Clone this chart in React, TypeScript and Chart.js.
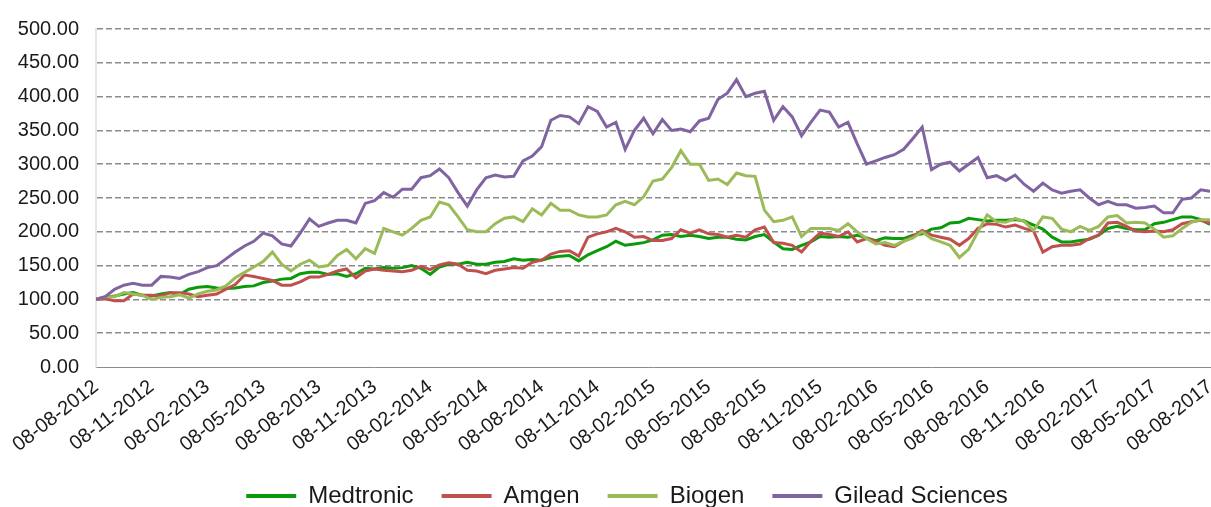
import React, { useEffect, useRef } from "react";
import { Chart, registerables } from "chart.js";

Chart.register(...registerables);

// Tick labels on the x axis (one every 6 data points)
const tickLabels = [
  "08-08-2012", "08-11-2012", "08-02-2013", "08-05-2013", "08-08-2013",
  "08-11-2013", "08-02-2014", "08-05-2014", "08-08-2014", "08-11-2014",
  "08-02-2015", "08-05-2015", "08-08-2015", "08-11-2015", "08-02-2016",
  "08-05-2016", "08-08-2016", "08-11-2016", "08-02-2017", "08-05-2017",
  "08-08-2017",
];
const POINTS_PER_TICK = 6;

const seriesNames = ["Medtronic", "Amgen", "Biogen", "Gilead Sciences"];
const seriesColors = ["#0a9a0a", "#c0504d", "#9bbb59", "#8064a2"];

const medtronic = [
  100, 103, 105, 108, 110, 106, 105, 108, 110, 107, 115, 118, 119, 117, 116, 117, 119, 120, 125, 127, 130,
  131, 138, 140, 140, 137, 138, 134, 138, 146, 145, 147, 146, 147, 150, 146, 137, 148, 152, 152, 155,
  152, 152, 155, 156, 160, 158, 159, 158, 162, 164, 165, 157, 166, 172, 178, 186, 180, 182, 184, 188,
  195, 196, 193, 195, 193, 190, 192, 192, 189, 188, 193, 196, 185, 175, 174, 180, 185, 193, 192, 193,
  192, 195, 191, 187, 191, 190, 190, 195, 197, 204, 206, 213, 214, 220, 218, 216, 217, 217, 218, 216,
  210, 204, 192, 185, 185, 187, 189, 195, 205, 208, 205, 203, 203, 212, 214, 218, 222, 222, 218, 211,
];

const amgen = [
  100, 101, 98, 98, 108, 106, 106, 105, 110, 110, 108, 104, 106, 108, 115, 122, 136, 134, 131, 128, 121,
  121, 126, 133, 133, 137, 142, 145, 132, 142, 145, 143, 142, 141, 143, 149, 144, 151, 154, 152, 143,
  142, 138, 143, 145, 147, 146, 155, 158, 167, 171, 172, 164, 192, 197, 200, 205, 200, 192, 193, 187,
  187, 190, 203, 198, 203, 197, 196, 192, 195, 192, 203, 207, 184, 183, 180, 170, 186, 198, 196, 193,
  200, 185, 190, 186, 180, 178, 186, 193, 202, 195, 192, 189, 180, 190, 205, 212, 211, 207, 210, 205,
  201, 170, 178, 180, 180, 182, 190, 195, 213, 214, 208, 201, 200, 201, 200, 203, 212, 215, 217, 213,
];

const biogen = [
  100, 104, 104, 110, 108, 106, 100, 103, 104, 107, 102, 108, 112, 114, 120, 132, 140, 148, 156, 170, 152,
  142, 152, 158, 148, 150, 165, 174, 160, 175, 168, 205, 200, 195, 205, 217, 222, 244, 240, 222, 203,
  200, 200, 212, 220, 222, 215, 234, 225, 242, 232, 232, 225, 222, 222, 225, 240, 245, 240, 252, 275,
  278, 295, 320, 300, 300, 276, 278, 270, 287, 283, 282, 232, 215, 217, 222, 193, 205, 205, 205, 202,
  212, 200, 190, 182, 184, 180, 186, 191, 200, 190, 185, 180, 162, 174, 200, 225, 215, 214, 220, 215,
  202, 222, 220, 204, 200, 208, 202, 208, 222, 224, 213, 214, 213, 204, 192, 194, 205, 214, 218, 218,
];

const gilead = [
  100, 104, 115, 121, 124, 121, 121, 134, 133, 131, 137, 141, 147, 150, 160, 170, 179, 186, 198, 194, 182,
  179, 198, 219, 208, 213, 217, 217, 213, 242, 246, 258, 251, 263, 263, 280, 283, 293, 280, 258, 238,
  262, 280, 284, 281, 282, 305, 312, 326, 365, 372, 370, 360, 385, 378, 355, 362, 322, 350, 368, 345,
  366, 350, 352, 348, 364, 368, 396, 405, 425, 400, 405, 408, 365, 385, 370, 342, 362, 380, 377, 355,
  362, 330, 300, 305, 310, 314, 322, 338, 355, 292, 300, 303, 290, 300, 310, 280, 283, 276, 284, 270,
  260, 272, 262, 257, 260, 262, 250, 240, 245, 240, 240, 235, 236, 238, 228, 228, 248, 250, 262, 260,
];

const seriesValues = [medtronic, amgen, biogen, gilead];

const FONT = "'Liberation Sans', Arial, Helvetica, sans-serif";
const CANVAS_H = 518;
const PLOT_BOTTOM = 367;

export default function App() {
  const canvasRef = useRef<HTMLCanvasElement | null>(null);

  useEffect(() => {
    if (!canvasRef.current) return;
    const datasets = seriesNames.map((name, s) => ({
      label: name,
      data: seriesValues[s].map((v, i) => ({ x: i, y: v })),
      borderColor: seriesColors[s],
      backgroundColor: seriesColors[s],
      borderWidth: 3,
      pointRadius: 0,
      tension: 0,
      order: seriesNames.length - s,
    }));

    const legendShift = {
      id: "legendShift",
      afterLayout(c: any) {
        if (c.legend) c.legend.left += 30;
      },
    };

    const chart = new Chart(canvasRef.current, {
      type: "line",
      data: { datasets },
      plugins: [legendShift],
      options: {
        responsive: true,
        maintainAspectRatio: false,
        animation: false,
        layout: { padding: { left: 14, right: 1, top: 26, bottom: 0 } },
        plugins: {
          legend: {
            position: "bottom",
            labels: {
              font: { size: 24, family: FONT },
              color: "#1a1a1a",
              boxWidth: 50,
              boxHeight: 4,
              padding: 28,
              sort: (a: any, b: any) => a.datasetIndex - b.datasetIndex,
              generateLabels: (c: any) =>
                (Chart.defaults.plugins.legend.labels as any)
                  .generateLabels(c)
                  .map((l: any) => ({ ...l, fillStyle: l.strokeStyle, lineWidth: 0 })),
            },
          },
          tooltip: { enabled: false },
        },
        scales: {
          x: {
            type: "linear",
            min: 0,
            max: (tickLabels.length - 1) * POINTS_PER_TICK,
            grid: { display: false, drawTicks: false },
            border: { display: true, color: "#8c8c8c", width: 1 },
            ticks: {
              autoSkip: false,
              minRotation: 38,
              maxRotation: 38,
              padding: 8,
              color: "#1a1a1a",
              font: { size: 20, family: FONT },
              callback: (v: any) => tickLabels[Math.round(Number(v) / POINTS_PER_TICK)] ?? "",
            },
            afterBuildTicks: (s: any) => {
              s.ticks = tickLabels.map((_, k) => ({ value: k * POINTS_PER_TICK }));
            },
            afterFit: (s: any) => {
              s.paddingLeft = 0;
              s.paddingRight = 0;
              const lh = s.chart.legend && s.chart.legend.height ? s.chart.legend.height : 62;
              s.height = CANVAS_H - PLOT_BOTTOM - lh;
            },
          },
          y: {
            min: 0,
            max: 500,
            ticks: {
              stepSize: 50,
              padding: 17,
              color: "#1a1a1a",
              font: { size: 20, family: FONT },
              callback: (v: any) => Number(v).toFixed(2),
            },
            grid: {
              drawTicks: false,
              lineWidth: 1.5,
              color: (ctx: any) =>
                ctx.tick && ctx.tick.value === 0 ? "rgba(0,0,0,0)" : "#8c8c8c",
            },
            border: { display: true, color: "#e6e6e6", width: 2, dash: [6, 3] },
            afterFit: (s: any) => {
              s.width = 82;
            },
          },
        },
      } as any,
    });
    return () => chart.destroy();
  }, []);

  return (
    <div
      style={{
        position: "fixed",
        left: 0,
        top: 0,
        width: 1211,
        height: 507,
        overflow: "hidden",
        background: "#ffffff",
      }}
    >
      <div style={{ position: "relative", width: 1211, height: CANVAS_H }}>
        <canvas ref={canvasRef} style={{ display: "block" }} />
      </div>
    </div>
  );
}
